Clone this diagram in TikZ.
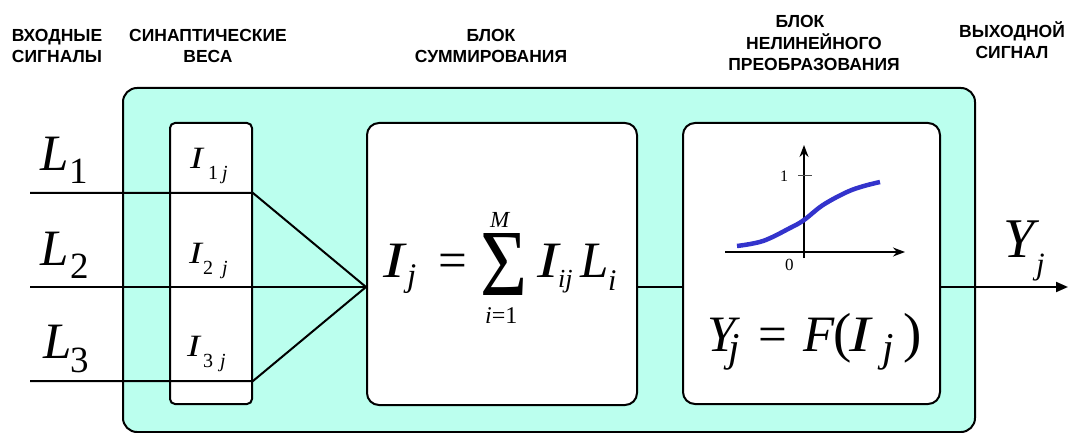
\documentclass[tikz,border=0pt]{standalone}
\usepackage{graphicx}
\usepackage{fontspec}
\setmainfont{Liberation Serif}
\newfontfamily\hdrfont{Liberation Sans}
\usetikzlibrary{arrows.meta}
\definecolor{panel}{RGB}{187,255,238}
\definecolor{curveblue}{RGB}{51,51,204}
\newcommand\fsz[1]{\fontsize{#1}{#1}\selectfont}
% broad italic I, as set by the formula editor
\newcommand\wideI[1][1.25]{\scalebox{#1}[1]{I}}

\begin{document}
\begin{tikzpicture}[x=1pt,y=-1pt,
  hdr/.style={font=\hdrfont\bfseries\fontsize{17.5}{21.5}\selectfont,
              align=center, inner sep=0pt, anchor=base},
  gl/.style={inner sep=0pt, anchor=base west},
  frame/.style={draw, line width=2pt, fill=panel, rounded corners=14pt},
  block/.style={draw, line width=2pt, fill=white, rounded corners=12pt},
  wire/.style={line width=2pt},
  axis/.style={line width=1.5pt, -{Stealth[length=12pt,width=9pt]}},
]
% canvas
\fill[white] (0,0) rectangle (1069,433);
\useasboundingbox (0,0) rectangle (1069,433);

% column headings (anchored at the baseline of the last line)
\node[hdr] (hIn)  at (57,63)   {ВХОДНЫЕ\\СИГНАЛЫ};
\node[hdr] (hW)   at (208,63)  {СИНАПТИЧЕСКИЕ\\ВЕСА};
\node[hdr] (hSum) at (491,63)  {БЛОК\\СУММИРОВАНИЯ};
\node[hdr] (hF)   at (814,71)  {БЛОК\hspace*{28pt}\\НЕЛИНЕЙНОГО\\ПРЕОБРАЗОВАНИЯ};
\node[hdr] (hOut) at (1012,59) {ВЫХОДНОЙ\\СИГНАЛ};

% neuron body
\node[frame, minimum width=852pt, minimum height=344pt] (neuron) at (549,260) {};

% blocks
\node[block, rounded corners=5pt, minimum width=82pt, minimum height=281pt] (wbox) at (211,263.5) {};
\node[block, minimum width=270pt, minimum height=282pt] (sbox) at (502,264) {};
\node[block, minimum width=257pt, minimum height=281pt] (fbox) at (811.5,263.5) {};

% wiring
\coordinate (in1) at (30,193);
\coordinate (in2) at (30,287);
\coordinate (in3) at (30,381);
\coordinate (w1) at (wbox.east |- in1);
\coordinate (w3) at (wbox.east |- in3);
\coordinate (sin) at (sbox.west |- in2);
\coordinate (sout) at (sbox.east |- in2);
\coordinate (fin) at (fbox.west |- in2);
\coordinate (fout) at (fbox.east |- in2);
\coordinate (out) at (1068,287);
\draw[wire] (in1) -- (w1) -- (sin);
\draw[wire] (in3) -- (w3) -- (sin);
\draw[wire] (in2) -- (sin);
\draw[wire] (sout) -- (fin);
\draw[wire, -{Triangle[length=12pt,width=10pt]}] (fout) -- (out);

% input signals
\node[gl, font=\fsz{51}\itshape] (L1) at (40,171) {L};
\node[gl, font=\fsz{37}] (L1s) at (69,183) {1};
\node[gl, font=\fsz{51}\itshape] (L2) at (40,265) {L};
\node[gl, font=\fsz{37}] (L2s) at (70,278) {2};
\node[gl, font=\fsz{51}\itshape] (L3) at (43,358) {L};
\node[gl, font=\fsz{37}] (L3s) at (70,372) {3};

% synaptic weights
\node[gl, font=\fsz{31}\itshape] (W1) at (190,168) {\wideI};
\node[gl, font=\fsz{20}] (W1a) at (208,180) {1};
\node[gl, font=\fsz{20}\itshape] (W1b) at (222,180) {j};
\node[gl, font=\fsz{31}\itshape] (W2) at (189,263) {\wideI};
\node[gl, font=\fsz{20}] (W2a) at (203,274) {2};
\node[gl, font=\fsz{20}\itshape] (W2b) at (222,274) {j};
\node[gl, font=\fsz{31}\itshape] (W3) at (187,356) {\wideI};
\node[gl, font=\fsz{20}] (W3a) at (203,367) {3};
\node[gl, font=\fsz{20}\itshape] (W3b) at (220,367) {j};

% summation formula
\node[gl, font=\fsz{51}\itshape] (sI) at (383,277) {\wideI};
\node[gl, font=\fsz{33}\itshape] (sj) at (407,286) {j};
\node[gl, font=\fsz{51}] (seq) at (438,277) {=};
\node[inner sep=0pt] (sigma) at (503.5,264) {\resizebox*{47pt}{62pt}{Σ}};
\node[gl, font=\fsz{23}\itshape] (sM) at (490,227) {M};
\node[gl, font=\fsz{24}] (slow) at (485,323) {\textit{i}=1};
\node[gl, font=\fsz{51}\itshape] (sIij) at (537,277) {\wideI};
\node[gl, font=\fsz{26}\itshape] (sij) at (558,287) {ij};
\node[gl, font=\fsz{51}\itshape] (sL) at (580,277) {L};
\node[gl, font=\fsz{30}\itshape] (si) at (608,290) {i};

% activation function plot
\coordinate (xa0) at (725,252);
\coordinate (xa1) at (905,252);
\coordinate (ya0) at (804,258);
\coordinate (ya1) at (804,145);
\draw[axis] (xa0) -- (xa1);
\draw[axis] (ya0) -- (ya1);
\draw[line width=1pt, black!70] (798,176) -- (812,176);
\node[gl, font=\fsz{16}] (one) at (780,182) {1};
\node[gl, font=\fsz{17}] (zero) at (785,270) {0};
\draw[curveblue, line width=4.5pt] plot[smooth, tension=0.6] coordinates
  {(737,246) (763,241) (790,228) (804,220) (823,205) (847,192) (864,186) (880,182)};

% transfer formula
\node[gl, font=\fsz{51}\itshape] (fY) at (707,351) {Y};
\node[gl, font=\fsz{41}\itshape] (fYj) at (728,361) {j};
\node[gl, font=\fsz{51}] (feq) at (758,351) {=};
\node[gl, font=\fsz{51}\itshape] (fF) at (803,351) {F};
\node[gl, font=\fsz{55}] (fpl) at (833,351) {(};
\node[gl, font=\fsz{51}\itshape] (fI) at (849,351) {\wideI};
\node[gl, font=\fsz{41}\itshape] (fIj) at (882,361) {j};
\node[gl, font=\fsz{55}] (fpr) at (903,351) {)};

% output signal
\node[gl, font=\fsz{56}\itshape] (oY) at (1003,258) {Y};
\node[gl, font=\fsz{31}\itshape] (oj) at (1036,274) {j};
\end{tikzpicture}
\end{document}
